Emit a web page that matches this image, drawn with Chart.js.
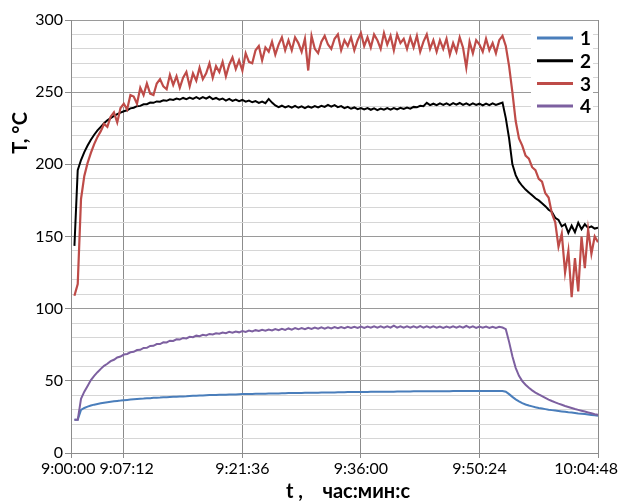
<!DOCTYPE html>
<html>
<head>
<meta charset="utf-8">
<script src="https://cdn.jsdelivr.net/npm/chart.js@4.4.1/dist/chart.umd.min.js"></script>
<style>
  body { margin: 0; background: #fff; }
  #wrap { width: 620px; height: 502px; }
</style>
</head>
<body>
<div id="wrap"><canvas id="grafico" width="620" height="502"></canvas></div>
<script>
// Отсчёты каждые 24 с, начиная с 72 с после 9:00:00
const tStart = 72;
const tStep = 24;

// Подписи оси времени (секунды от 9:00:00)
const xTickValues = [47, 432, 1296, 2160, 3024, 3888];
const xTickLabels = ['9:00:00', '9:07:12', '9:21:36', '9:36:00', '9:50:24', '10:04:48'];

const seriesNames = ['1', '2', '3', '4'];

const temp1 = [23, 23, 29.8, 31.2, 32.1, 32.9, 33.5, 34.0, 34.4, 34.8, 35.2, 35.5, 35.8, 36.1, 36.3, 36.6, 36.8, 37.0, 37.2, 37.4,
  37.6, 37.7, 37.9, 38.0, 38.2, 38.3, 38.4, 38.6, 38.7, 38.8, 38.9, 39.0, 39.1, 39.2, 39.3, 39.5, 39.6, 39.7, 39.8, 39.9,
  40.0, 40.1, 40.1, 40.2, 40.3, 40.4, 40.4, 40.5, 40.6, 40.6, 40.7, 40.8, 40.8, 40.9, 40.9, 41.0, 41.0, 41.1, 41.1, 41.2,
  41.3, 41.3, 41.3, 41.4, 41.4, 41.5, 41.5, 41.6, 41.6, 41.6, 41.7, 41.7, 41.8, 41.8, 41.8, 41.9, 41.9, 41.9, 42.0, 42.0,
  42.1, 42.1, 42.1, 42.2, 42.2, 42.2, 42.3, 42.3, 42.3, 42.3, 42.4, 42.4, 42.4, 42.4, 42.5, 42.5, 42.5, 42.5, 42.6, 42.6,
  42.6, 42.6, 42.6, 42.7, 42.7, 42.7, 42.7, 42.7, 42.8, 42.8, 42.8, 42.8, 42.8, 42.8, 42.8, 42.9, 42.9, 42.9, 42.9, 42.9,
  42.9, 42.9, 42.9, 42.9, 42.9, 43.0, 43.0, 43.0, 43.0, 43.0, 43.0, 42.5, 40.8, 38.9, 37.2, 35.8, 34.5, 33.6, 32.9, 32.3,
  31.7, 31.2, 30.8, 30.4, 30.0, 29.7, 29.4, 29.1, 28.8, 28.5, 28.2, 28.0, 27.7, 27.4, 27.2, 27.0, 26.7, 26.4, 26.1, 25.8];

const temp2 = [143.5, 196, 203, 208.5, 213, 217, 220.5, 223.5, 226, 228.5, 230.5, 232, 233.5, 234.8, 235.8, 236.8, 237.5, 238.8, 239.2, 240.3,
  240.5, 241.6, 241.7, 242.8, 242.6, 243.6, 243.4, 244.4, 244.0, 245.0, 244.6, 245.6, 244.9, 246.0, 245.2, 246.3, 245.4, 246.5, 245.3, 246.6,
  245.5, 246.8, 245.2, 246.0, 244.8, 245.6, 244.2, 245.3, 244.0, 244.9, 243.8, 244.6, 243.4, 244.2, 243.0, 243.8, 242.6, 243.5, 242.4, 245.3,
  242.8, 240.8, 239.6, 240.6, 239.4, 240.4, 239.3, 240.5, 239.2, 240.2, 239.0, 240.1, 239.3, 240.4, 239.5, 240.6, 239.8, 241.2, 240.0, 241.0,
  239.6, 240.3, 238.9, 239.8, 238.5, 239.4, 238.2, 239.0, 238.0, 238.9, 237.8, 238.8, 237.6, 238.7, 237.8, 238.9, 237.9, 239.0, 238.0, 239.2,
  238.4, 239.3, 238.6, 239.8, 239.5, 240.6, 240.3, 242.6, 241.0, 242.0, 241.0, 242.2, 241.2, 242.3, 241.1, 242.4, 241.3, 242.5, 241.2, 242.3,
  241.0, 242.2, 241.1, 242.0, 240.9, 242.1, 241.0, 242.3, 241.2, 242.0, 242.8, 232, 218, 200, 192.5, 188, 185, 182.5, 180.5, 178.5,
  176.5, 175, 173, 171, 168.5, 167, 163, 161.5, 157, 158.5, 152.5, 157.5, 153, 159.5, 155, 158.5, 156, 157, 155.5, 156];

const temp3 = [109, 117, 176, 192, 201, 208, 214, 219, 223, 228, 226, 233, 236, 229, 239, 242, 238, 248, 247, 242,
  253, 248, 256, 249, 248, 256, 259, 254, 252, 262, 255, 261, 253, 260, 264, 254, 263, 258, 267, 259,
  263, 270, 260, 268, 264, 271, 261, 269, 274, 266, 272, 265, 277, 271, 270, 279, 282, 272, 281, 278,
  285, 276, 283, 288, 279, 286, 279, 288, 284, 278, 287, 265, 289, 280, 277, 285, 289, 283, 280, 287,
  290, 279, 286, 282, 288, 279, 286, 291, 282, 288, 281, 290, 286, 280, 291, 283, 289, 279, 290, 284,
  287, 280, 288, 281, 289, 278, 285, 290, 280, 286, 278, 286, 280, 287, 276, 284, 278, 288, 281, 267,
  285, 277, 286, 283, 278, 287, 279, 284, 277, 286, 289, 282, 268, 250, 230, 218, 213, 206, 204, 198,
  196, 190, 188, 180, 177, 166, 160, 143, 152, 125, 140, 108, 135, 112, 150, 128, 155, 138, 150, 146];

const temp4 = [23.0, 23.0, 37.5, 42.5, 46.5, 50.5, 53.5, 56.0, 58.3, 60.4, 61.8, 63.6, 64.6, 66.2, 66.8, 68.2, 68.6, 69.8, 70.1, 71.3,
  71.5, 72.8, 72.9, 74.2, 74.3, 75.5, 75.5, 76.7, 76.6, 77.8, 77.6, 78.8, 78.6, 79.7, 79.4, 80.5, 80.2, 81.3, 80.9, 81.9,
  81.5, 82.5, 82.1, 83.0, 82.6, 83.5, 83.0, 83.9, 83.3, 84.2, 83.6, 84.5, 83.9, 84.8, 84.2, 85.1, 84.5, 85.4, 84.7, 85.6,
  84.9, 85.9, 85.1, 86.1, 85.3, 86.3, 85.5, 86.5, 85.7, 86.6, 85.8, 86.8, 86.0, 86.9, 86.1, 87.0, 86.2, 87.1, 86.3, 87.2,
  86.4, 87.3, 86.5, 87.4, 86.6, 87.5, 86.7, 87.6, 86.7, 87.6, 86.8, 87.8, 86.8, 87.7, 86.9, 87.8, 86.9, 88.3, 86.9, 87.8,
  86.8, 87.7, 86.8, 87.8, 86.9, 87.9, 86.9, 87.8, 86.8, 87.7, 86.8, 87.6, 86.7, 87.6, 86.8, 87.7, 86.8, 87.8, 86.9, 88.0,
  86.8, 87.7, 86.7, 87.6, 86.8, 87.6, 86.7, 87.5, 86.6, 87.4, 86.9, 85.8, 77.0, 67.0, 59.0, 53.5, 49.8, 47.3, 45.2, 43.4,
  41.9, 40.6, 39.4, 38.2, 37.0, 36.0, 35.1, 34.2, 33.4, 32.6, 31.9, 31.2, 30.5, 29.9, 29.3, 28.7, 28.1, 27.5, 26.9, 26.4];

const colores = ['#4a7ebb', '#000000', '#be4b48', '#7d60a0'];

const fuente = 'Lato, "Open Sans", "Noto Sans", sans-serif';

// Пары (время, значение) для линейной оси
const toPoints = function(values){
  return values.map(function(v, i){ return { x: tStart + i * tStep, y: v }; });
};

// Подписи оси X, заголовки осей и легенда
const rotulos = {
  id: 'rotulos',
  afterDraw: function(chart){
    const ctx = chart.ctx;
    const xs = chart.scales.x;
    const area = chart.chartArea;

    ctx.save();
    ctx.fillStyle = '#000';
    ctx.font = '16px ' + fuente;
    ctx.textBaseline = 'middle';
    ctx.textAlign = 'left';

    // позиции подписей, раздвигаем если налезают
    let items = xTickLabels.map(function(txt, k){
      let w = ctx.measureText(txt).width;
      let c = xs.getPixelForValue(xTickValues[k]);
      return { txt: txt, w: w, left: c - w / 2 };
    });
    let last = items[items.length - 1];
    if (last.left + last.w > 618) last.left = 618 - last.w;
    for (let k = 1; k < items.length; k++) {
      let prev = items[k - 1];
      let over = prev.left + prev.w + 4 - items[k].left;
      if (over > 0) {
        prev.left -= over / 2;
        items[k].left += over / 2;
      }
    }
    items.forEach(function(it){
      ctx.fillText(it.txt, it.left, area.bottom + 16);
    });

    // заголовки осей
    ctx.font = 'bold 20px ' + fuente;
    ctx.textAlign = 'center';
    ctx.fillText('t ,    час:мин:с', 348, 492);

    ctx.save();
    ctx.translate(21, 133);
    ctx.rotate(-Math.PI / 2);
    ctx.fillText('T, °C', 0, 0);
    ctx.restore();

    // легенда
    ctx.fillStyle = '#fff';
    ctx.fillRect(531, 26, 62, 90);
    ctx.font = 'bold 19px ' + fuente;
    ctx.textAlign = 'left';
    chart.data.datasets.forEach(function(ds, k){
      let y = 38 + k * 22.7;
      ctx.strokeStyle = ds.borderColor;
      ctx.lineWidth = 3;
      ctx.beginPath();
      ctx.moveTo(537, y);
      ctx.lineTo(573, y);
      ctx.stroke();
      ctx.fillStyle = '#000';
      ctx.fillText(ds.label, 580, y + 1);
    });
    ctx.restore();
  }
};

const datasets = [temp1, temp2, temp3, temp4].map(function(serie, k){
  return {
    label: seriesNames[k],
    data: toPoints(serie),
    borderColor: colores[k],
    backgroundColor: colores[k],
    borderWidth: k == 2 ? 2.2 : 2,
    pointRadius: 0,
    tension: 0,
    order: 4 - k
  };
});

const grafico = new Chart(document.getElementById('grafico').getContext('2d'), {
  type: 'line',
  data: { datasets: datasets },
  options: {
    responsive: false,
    animation: false,
    layout: { padding: { top: 20, right: 22, left: 0, bottom: 0 } },
    plugins: {
      legend: { display: false },
      tooltip: { enabled: false }
    },
    scales: {
      x: {
        type: 'linear',
        min: 47,
        max: 3888,
        afterBuildTicks: function(s){
          s.ticks = xTickValues.map(function(v){ return { value: v }; });
        },
        ticks: { display: false },
        grid: { color: '#8c8c8c', tickLength: 5, tickColor: '#8c8c8c' },
        border: { color: '#8c8c8c' },
        afterFit: function(s){
          s.height = 49;
          s.paddingLeft = 0;
          s.paddingRight = 0;
        }
      },
      y: {
        min: 0,
        max: 300,
        ticks: {
          stepSize: 10,
          autoSkip: false,
          padding: 2,
          color: '#000',
          font: { family: fuente, size: 16 },
          callback: function(v){ return v % 50 === 0 ? v : ''; }
        },
        grid: {
          color: function(c){ return c.tick && c.tick.value % 50 === 0 ? '#9a9a9a' : '#d6d6d6'; },
          tickLength: 6,
          tickColor: function(c){ return c.tick && c.tick.value % 50 === 0 ? '#8c8c8c' : 'rgba(0,0,0,0)'; }
        },
        border: { color: '#8c8c8c' },
        afterFit: function(s){
          s.width = 71;
          s.paddingTop = 0;
          s.paddingBottom = 0;
        }
      }
    }
  },
  plugins: [rotulos]
});
</script>
</body>
</html>
